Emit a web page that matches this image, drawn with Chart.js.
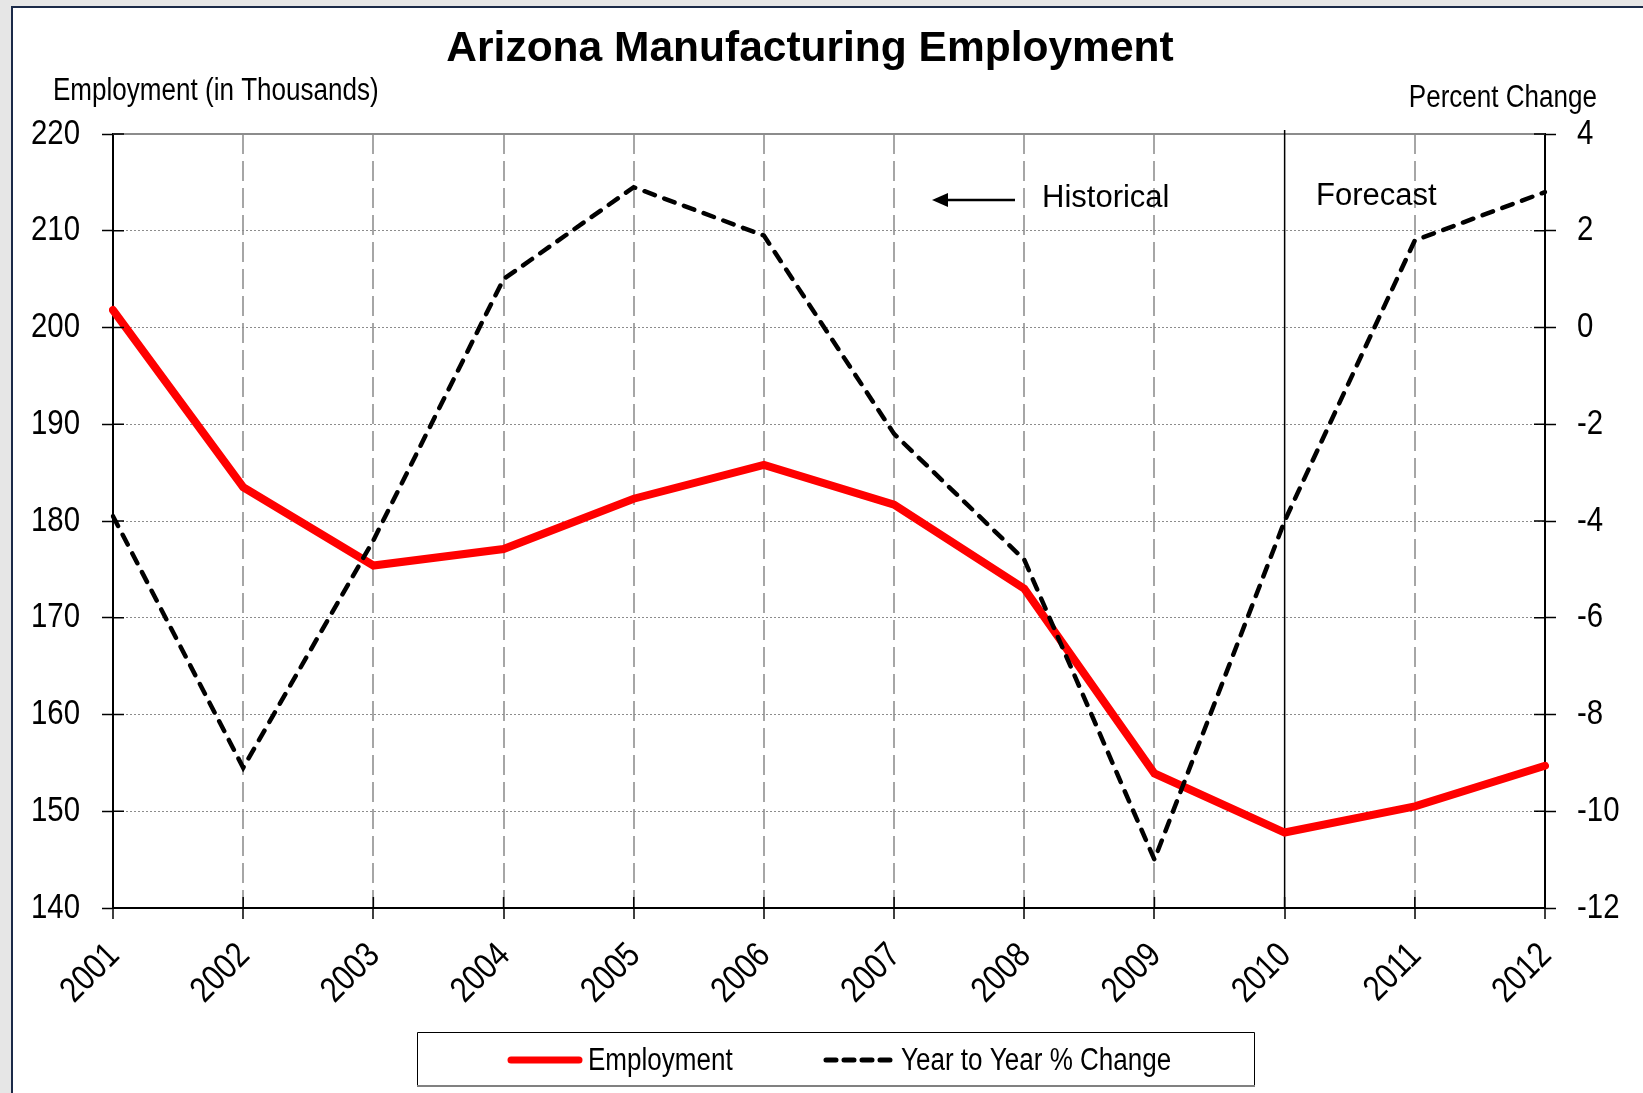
<!DOCTYPE html>
<html>
<head>
<meta charset="utf-8">
<title>Arizona Manufacturing Employment</title>
<script src="https://cdn.jsdelivr.net/npm/chart.js@4.4.0/dist/chart.umd.min.js"></script>
<style>
  html, body { margin: 0; padding: 0; background: #e6e6e6; overflow: hidden; }
  #chart { display: block; }
</style>
</head>
<body>
<canvas id="chart" width="1643" height="1093"></canvas>
<script>
// data
const years = ['2001', '2002', '2003', '2004', '2005', '2006', '2007', '2008', '2009', '2010', '2011', '2012'];
const employment = [201.8, 183.5, 175.4, 177.1, 182.3, 185.8, 181.7, 173.0, 153.9, 147.8, 150.5, 154.7];
const pctChange = [-3.9, -9.1, -4.4, 1.0, 2.9, 1.9, -2.2, -4.8, -11.0, -4.0, 1.8, 2.8];
const leftTicks = [140, 150, 160, 170, 180, 190, 200, 210, 220];
const rightTicks = [-12, -10, -8, -6, -4, -2, 0, 2, 4];
const forecastStart = '2010';

const arial = "'Liberation Sans', Arial, sans-serif";
// no Arial Narrow in the sandbox, so squeeze Liberation Sans sideways
const SQUEEZE = 0.84;

function narrowText(ctx, text, x, y, size, align, baseline, angle) {
  ctx.save();
  ctx.translate(x, y);
  if (angle) ctx.rotate(angle);
  ctx.scale(SQUEEZE, 1);
  ctx.font = size + 'px ' + arial;
  ctx.fillStyle = '#000';
  ctx.textAlign = align;
  ctx.textBaseline = baseline;
  ctx.fillText(text, 0, 0);
  ctx.restore();
}

// frame + white page behind the chart
const framePlugin = {
  id: 'frame',
  beforeDraw(chart) {
    const ctx = chart.ctx;
    ctx.save();
    ctx.fillStyle = '#e6e6e6';
    ctx.fillRect(0, 0, chart.width, chart.height);
    ctx.fillStyle = '#fff';
    ctx.fillRect(12, 7, chart.width, chart.height);
    ctx.strokeStyle = '#1b2a48';
    ctx.lineWidth = 2;
    ctx.beginPath();
    ctx.moveTo(12, chart.height);
    ctx.lineTo(12, 7);
    ctx.lineTo(chart.width, 7);
    ctx.stroke();
    ctx.restore();
  }
};

// top border and forecast divider, under the lines
const areaPlugin = {
  id: 'area',
  beforeDatasetsDraw(chart) {
    const {ctx, chartArea: a, scales} = chart;
    ctx.save();
    ctx.strokeStyle = '#8c8c8c';
    ctx.lineWidth = 2;
    ctx.beginPath();
    ctx.moveTo(a.left, a.top);
    ctx.lineTo(a.right, a.top);
    ctx.stroke();

    const fx = scales.x.getPixelForValue(years.indexOf(forecastStart));
    ctx.strokeStyle = '#000';
    ctx.lineWidth = 1.5;
    ctx.beginPath();
    ctx.moveTo(fx, a.top - 4);
    ctx.lineTo(fx, a.bottom);
    ctx.stroke();
    ctx.restore();
  }
};

// inner half of the crossing ticks, tick labels, texts, arrow and the boxed legend
const overlayPlugin = {
  id: 'overlay',
  afterDraw(chart) {
    const {ctx, chartArea: a, scales} = chart;
    const len = 11;
    ctx.save();
    ctx.strokeStyle = '#000';
    ctx.lineWidth = 1.5;
    ctx.beginPath();
    scales.y.ticks.forEach((t, i) => {
      const py = scales.y.getPixelForTick(i);
      ctx.moveTo(a.left, py); ctx.lineTo(a.left + len, py);
    });
    scales.y1.ticks.forEach((t, i) => {
      const py = scales.y1.getPixelForTick(i);
      ctx.moveTo(a.right - len, py); ctx.lineTo(a.right, py);
    });
    scales.x.ticks.forEach((t, i) => {
      const px = scales.x.getPixelForTick(i);
      ctx.moveTo(px, a.bottom); ctx.lineTo(px, a.bottom - len);
    });
    ctx.stroke();

    // tick labels
    scales.y.ticks.forEach((t, i) => {
      narrowText(ctx, String(t.value), a.left - 33, scales.y.getPixelForTick(i), 35, 'right', 'middle');
    });
    scales.y1.ticks.forEach((t, i) => {
      narrowText(ctx, String(t.value), a.right + 32, scales.y1.getPixelForTick(i), 35, 'left', 'middle');
    });
    scales.x.ticks.forEach((t, i) => {
      const px = scales.x.getPixelForTick(i);
      narrowText(ctx, chart.data.labels[t.value], px + 1, a.bottom + 42, 35.5, 'right', 'middle', -Math.PI / 4);
    });

    ctx.fillStyle = '#000';
    ctx.font = 'bold 42.5px ' + arial;
    ctx.textAlign = 'center';
    ctx.textBaseline = 'alphabetic';
    ctx.fillText('Arizona Manufacturing Employment', 810, 61);

    narrowText(ctx, 'Employment (in Thousands)', 53, 100, 31, 'left', 'alphabetic');
    narrowText(ctx, 'Percent Change', 1597, 107, 31, 'right', 'alphabetic');

    ctx.font = '31px ' + arial;
    ctx.textAlign = 'left';
    ctx.fillText('Historical', 1042, 207);
    ctx.fillText('Forecast', 1316, 205);

    // arrow pointing back to the historical years
    ctx.lineWidth = 2.5;
    ctx.beginPath();
    ctx.moveTo(1015, 200);
    ctx.lineTo(944, 200);
    ctx.stroke();
    ctx.beginPath();
    ctx.moveTo(932, 200);
    ctx.lineTo(948, 193);
    ctx.lineTo(948, 207);
    ctx.closePath();
    ctx.fill();

    // legend
    ctx.lineWidth = 1;
    ctx.strokeStyle = '#000';
    ctx.beginPath();
    ctx.moveTo(417.5, 1085);
    ctx.lineTo(417.5, 1032.5);
    ctx.lineTo(1254.5, 1032.5);
    ctx.lineTo(1254.5, 1085);
    ctx.stroke();
    ctx.strokeStyle = '#808080';
    ctx.lineWidth = 2;
    ctx.beginPath();
    ctx.moveTo(417, 1086);
    ctx.lineTo(1255, 1086);
    ctx.stroke();

    const samples = [[511, 579, 588], [826, 891, 901]];
    chart.data.datasets.forEach((ds, i) => {
      const [x1, x2, tx] = samples[i];
      ctx.save();
      ctx.strokeStyle = ds.borderColor;
      ctx.lineWidth = ds.legendWidth;
      ctx.lineCap = 'round';
      ctx.setLineDash(ds.legendDash || []);
      ctx.beginPath();
      ctx.moveTo(x1, 1060);
      ctx.lineTo(x2, 1060);
      ctx.stroke();
      ctx.restore();
      narrowText(ctx, ds.label, tx, 1070, 31, 'left', 'alphabetic');
    });
    ctx.restore();
  }
};

new Chart(document.getElementById('chart'), {
  type: 'line',
  data: {
    labels: years,
    datasets: [
      {
        label: 'Employment',
        data: employment,
        yAxisID: 'y',
        borderColor: '#ff0000',
        borderWidth: 8,
        borderCapStyle: 'round',
        legendWidth: 7,
        pointRadius: 0,
        tension: 0,
        order: 1
      },
      {
        label: 'Year to Year % Change',
        data: pctChange,
        yAxisID: 'y1',
        borderColor: '#000',
        borderWidth: 4.5,
        borderCapStyle: 'round',
        borderDash: [11, 10],
        legendWidth: 5,
        legendDash: [10, 8],
        pointRadius: 0,
        tension: 0,
        order: 0
      }
    ]
  },
  options: {
    responsive: false,
    animation: false,
    layout: { padding: { top: 134, left: 0, right: 0, bottom: 0 } },
    plugins: {
      legend: { display: false },
      title: { display: false },
      tooltip: { enabled: false }
    },
    scales: {
      x: {
        offset: false,
        afterFit: (s) => { s.height = 185; },
        grid: {
          color: (c) => (c.index === 0 || c.index === years.length - 1 || years[c.index] === forecastStart) ? 'rgba(0,0,0,0)' : '#a6a6a6',
          lineWidth: 2,
          tickLength: 11,
          tickColor: '#000',
          tickWidth: 1.5
        },
        border: { display: true, color: '#000', width: 2, dash: [20, 7] },
        ticks: { display: false, autoSkip: false }
      },
      y: {
        position: 'left',
        min: 140,
        max: 220,
        afterBuildTicks: (s) => { s.ticks = leftTicks.map(v => ({ value: v })); },
        afterFit: (s) => { s.width = 113; },
        grid: {
          color: (c) => (c.index === 0 || c.index === leftTicks.length - 1) ? 'rgba(0,0,0,0)' : '#8c8c8c',
          lineWidth: 1,
          tickLength: 11,
          tickColor: '#000',
          tickWidth: 1.5
        },
        border: { display: true, color: '#000', width: 2, dash: [2, 2] },
        ticks: { display: false }
      },
      y1: {
        position: 'right',
        min: -12,
        max: 4,
        afterBuildTicks: (s) => { s.ticks = rightTicks.map(v => ({ value: v })); },
        afterFit: (s) => { s.width = 98; },
        grid: {
          drawOnChartArea: false,
          tickLength: 11,
          tickColor: '#000',
          tickWidth: 1.5
        },
        border: { display: true, color: '#000', width: 2 },
        ticks: { display: false }
      }
    }
  },
  plugins: [framePlugin, areaPlugin, overlayPlugin]
});
</script>
</body>
</html>
